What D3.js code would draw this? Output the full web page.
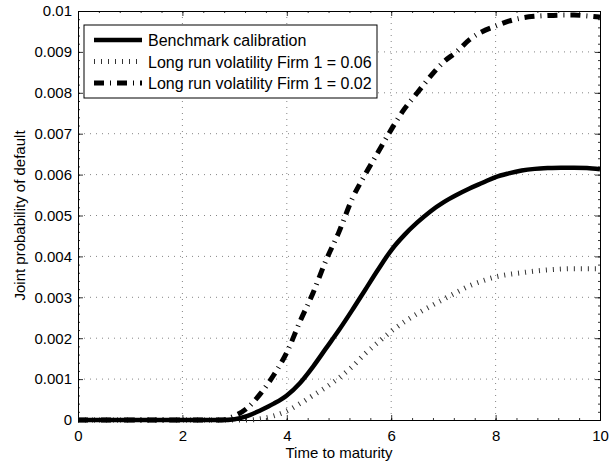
<!DOCTYPE html>
<html>
<head>
<meta charset="utf-8">
<script src="https://cdn.jsdelivr.net/npm/d3@7"></script>
<style>
  body { margin: 0; background: #fff; }
  text { font-family: "Liberation Sans", Arial, Helvetica, sans-serif; fill: #000; }
</style>
</head>
<body>
<svg id="chart" width="609" height="467"></svg>
<script>
// time grid (years to maturity)
var maturity = [0, 0.25, 0.5, 0.75, 1, 1.25, 1.5, 1.75, 2, 2.25, 2.5, 2.75,
    3, 3.25, 3.5, 3.75, 4, 4.25, 4.5, 4.75, 5, 5.25, 5.5, 5.75, 6, 6.25, 6.5, 6.75,
    7, 7.25, 7.5, 7.75, 8, 8.25, 8.5, 8.75, 9, 9.25, 9.5, 9.75, 10];

var benchmark = [0, 0, 0, 0, 0, 0, 0, 0, 0, 0, 0, 0,
    0.00002, 0.0001, 0.00024, 0.0004, 0.0006, 0.0009, 0.0013, 0.00175, 0.0022, 0.00268, 0.00318, 0.00368,
    0.00415, 0.00452, 0.00483, 0.0051, 0.00532, 0.0055, 0.00566, 0.0058, 0.00594, 0.00603, 0.0061, 0.00614,
    0.00616, 0.00617, 0.00617, 0.00616, 0.00613];

var vol006 = [0, 0, 0, 0, 0, 0, 0, 0, 0, 0, 0, 0,
    0, 0, 0.00003, 0.0001, 0.00022, 0.0004, 0.0006, 0.0008, 0.00103, 0.0013, 0.00162, 0.0019,
    0.00217, 0.0024, 0.0026, 0.00278, 0.00295, 0.00312, 0.00328, 0.0034, 0.0035, 0.00356, 0.0036, 0.00364,
    0.00367, 0.00369, 0.0037, 0.0037, 0.0037];

var vol002 = [0, 0, 0, 0, 0, 0, 0, 0, 0, 0, 0, 0,
    0.0001, 0.0003, 0.00065, 0.0011, 0.00165, 0.0024, 0.0031, 0.0039, 0.0046, 0.0054, 0.006, 0.00655,
    0.0071, 0.0076, 0.008, 0.0084, 0.00875, 0.009, 0.0093, 0.0095, 0.00963, 0.00975, 0.00983, 0.00987,
    0.00989, 0.0099, 0.0099, 0.00988, 0.00985];

var xTicks = [0, 2, 4, 6, 8, 10];
var yTicks = [0, 0.001, 0.002, 0.003, 0.004, 0.005, 0.006, 0.007, 0.008, 0.009, 0.01];
var yTickLabels = ["0", "0.001", "0.002", "0.003", "0.004", "0.005", "0.006", "0.007", "0.008", "0.009", "0.01"];

var seriesNames = ["Benchmark calibration", "Long run volatility Firm 1 = 0.06", "Long run volatility Firm 1 = 0.02"];

var margin = {top: 11, right: 9, bottom: 47, left: 78};
var width = 609 - margin.left - margin.right,
    height = 467 - margin.top - margin.bottom;

var svg = d3.select("#chart");
var g = svg.append("g")
    .attr("transform", "translate(" + margin.left + "," + margin.top + ")");

var x = d3.scaleLinear().domain([0, 10]).range([0, width]);
var y = d3.scaleLinear().domain([0, 0.01]).range([height, 0]);

// grid
g.selectAll(".vgrid")
    .data(xTicks.slice(1, -1))
    .enter().append("line")
    .attr("x1", function(d) { return x(d); })
    .attr("x2", function(d) { return x(d); })
    .attr("y1", 0).attr("y2", height)
    .attr("stroke", "#666").attr("stroke-width", 0.8)
    .attr("stroke-dasharray", "1,5");

g.selectAll(".hgrid")
    .data(yTicks.slice(1, -1))
    .enter().append("line")
    .attr("y1", function(d) { return y(d); })
    .attr("y2", function(d) { return y(d); })
    .attr("x1", 0).attr("x2", width)
    .attr("stroke", "#666").attr("stroke-width", 0.8)
    .attr("stroke-dasharray", "1,5");

// axes, ticks inside like matlab
var xMinor = d3.range(0, 10.001, 0.4);
var yMinor = d3.range(0, 0.01001, 0.0002);

g.append("g")
    .attr("transform", "translate(0," + height + ")")
    .call(d3.axisBottom(x).tickValues(xTicks).tickSize(-5).tickPadding(10).tickFormat(d3.format("d")));
g.append("g")
    .call(d3.axisTop(x).tickValues(xTicks).tickSize(-5).tickFormat(""));
g.append("g")
    .call(d3.axisLeft(y).tickValues(yTicks).tickSize(-5).tickPadding(6)
        .tickFormat(function(d, i) { return yTickLabels[i]; }));
g.append("g")
    .attr("transform", "translate(" + width + ",0)")
    .call(d3.axisRight(y).tickValues(yTicks).tickSize(-5).tickFormat(""));

// minor ticks
g.append("g").call(d3.axisBottom(x).tickValues(xMinor).tickSize(-2).tickFormat(""))
    .attr("transform", "translate(0," + height + ")");
g.append("g").call(d3.axisTop(x).tickValues(xMinor).tickSize(-2).tickFormat(""));
g.append("g").call(d3.axisLeft(y).tickValues(yMinor).tickSize(-2).tickFormat(""));
g.append("g").call(d3.axisRight(y).tickValues(yMinor).tickSize(-2).tickFormat(""))
    .attr("transform", "translate(" + width + ",0)");

g.selectAll(".domain").attr("stroke", "#000").attr("stroke-width", 1);
g.selectAll(".tick line").attr("stroke", "#000").attr("stroke-width", 0.8);
g.selectAll(".tick text").style("font-size", "15px")
    .style("font-family", "'Liberation Sans', Arial, sans-serif");

// curves
var line = d3.line()
    .x(function(d) { return x(d[0]); })
    .y(function(d) { return y(d[1]); })
    .curve(d3.curveMonotoneX);

var styles = [
    {values: benchmark, dash: null, w: 4.5, color: "#000"},
    {values: vol006, dash: "1,6", w: 5, color: "#333"},
    {values: vol002, dash: "10,6,1,6", w: 5, color: "#000"}
];

[1, 2, 0].forEach(function(k) {
    var s = styles[k];
    g.append("path")
        .datum(maturity.map(function(t, i) { return [t, s.values[i]]; }))
        .attr("d", line)
        .attr("fill", "none")
        .attr("stroke", s.color)
        .attr("stroke-width", s.w)
        .attr("stroke-dasharray", s.dash)
        .attr("stroke-linejoin", "round");
});

// legend
var legend = g.append("g").attr("transform", "translate(6,14)");
legend.append("rect")
    .attr("width", 293).attr("height", 73)
    .attr("fill", "#fff").attr("stroke", "#000").attr("stroke-width", 1);

seriesNames.forEach(function(name, i) {
    var s = styles[i];
    var ly = 15 + i * 21.5;
    legend.append("line")
        .attr("x1", 10).attr("x2", 58)
        .attr("y1", ly).attr("y2", ly)
        .attr("stroke", s.color)
        .attr("stroke-width", s.w)
        .attr("stroke-dasharray", s.dash);
    legend.append("text")
        .attr("x", 64).attr("y", ly + 6)
        .style("font-size", "16px")
        .text(name);
});

// axis labels
svg.append("text")
    .attr("x", margin.left + width / 2)
    .attr("y", 458)
    .attr("text-anchor", "middle")
    .style("font-size", "15px")
    .text("Time to maturity");

svg.append("text")
    .attr("transform", "translate(25," + (margin.top + height / 2) + ") rotate(-90)")
    .attr("text-anchor", "middle")
    .style("font-size", "15px")
    .text("Joint probability of default");
</script>
</body>
</html>
